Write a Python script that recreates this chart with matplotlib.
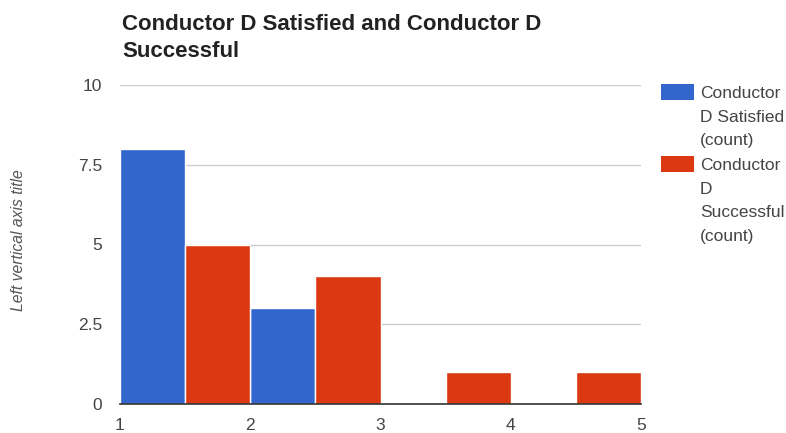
import matplotlib
matplotlib.use("Agg")
import matplotlib.pyplot as plt
from matplotlib.patches import Rectangle
import numpy as np

# Histogram buckets (left edges) and counts per series
bucket_starts = [1, 2, 3, 4]
satisfied_counts = [8, 3, 0, 0]
successful_counts = [5, 4, 1, 1]
series_names = ["Conductor D Satisfied (count)", "Conductor D Successful (count)"]
y_ticks = [0, 2.5, 5, 7.5, 10]
y_tick_labels = ["0", "2.5", "5", "7.5", "10"]
x_ticks = [1, 2, 3, 4, 5]

BLUE = "#3366CC"
RED = "#DC3912"
TEXT = "#444444"

plt.rcParams["font.family"] = ["Liberation Sans", "DejaVu Sans"]

fig = plt.figure(figsize=(7.86, 4.33), dpi=100)
ax = fig.add_axes([120 / 786, 29 / 433, 521 / 786, 319 / 433])

half = 0.5
starts = np.array(bucket_starts, dtype=float)
ax.bar(starts, satisfied_counts, width=half, align="edge", color=BLUE,
       edgecolor="white", linewidth=1.0, zorder=2)
ax.bar(starts + half, successful_counts, width=half, align="edge", color=RED,
       edgecolor="white", linewidth=1.0, zorder=2)

ax.set_xlim(1, 5)
ax.set_ylim(0, 10)
ax.set_yticks(y_ticks)
ax.set_yticklabels(y_tick_labels)
ax.set_xticks(x_ticks)
ax.set_xticklabels([str(v) for v in x_ticks])

for s in ["top", "right", "left"]:
    ax.spines[s].set_visible(False)
ax.spines["bottom"].set_color("#333333")
ax.spines["bottom"].set_linewidth(1.2)
ax.spines["bottom"].set_zorder(3)

ax.yaxis.grid(True, color="#CCCCCC", linewidth=1.0, zorder=0)
ax.set_axisbelow(True)
ax.tick_params(axis="both", length=0, labelsize=12.5, colors=TEXT)
ax.tick_params(axis="y", pad=13)
ax.tick_params(axis="x", pad=10)

# Title
fig.text(122 / 786, 1 - 30 / 433, "Conductor D Satisfied and Conductor D",
         fontsize=16, fontweight="bold", color="#222222", ha="left",
         va="baseline")
fig.text(122 / 786, 1 - 57 / 433, "Successful",
         fontsize=16, fontweight="bold", color="#222222", ha="left",
         va="baseline")

# Vertical axis title
fig.text(19 / 786, 1 - 240 / 433, "Left vertical axis title", rotation=90,
         fontsize=11.3, style="italic", color="#555555", ha="center",
         va="center")

# Legend
legend_items = [
    (BLUE, ["Conductor", "D Satisfied", "(count)"], 84),
    (RED, ["Conductor", "D", "Successful", "(count)"], 156),
]
for color, lines, top in legend_items:
    fig.patches.append(Rectangle((661 / 786, 1 - (top + 16) / 433),
                                 33 / 786, 16 / 433, transform=fig.transFigure,
                                 facecolor=color, edgecolor="none"))
    for i, line in enumerate(lines):
        fig.text(700 / 786, 1 - (top + 14 + i * 23.5) / 433, line,
                 fontsize=12.5, color=TEXT, ha="left", va="baseline")

fig.savefig("out.png", dpi=100)
